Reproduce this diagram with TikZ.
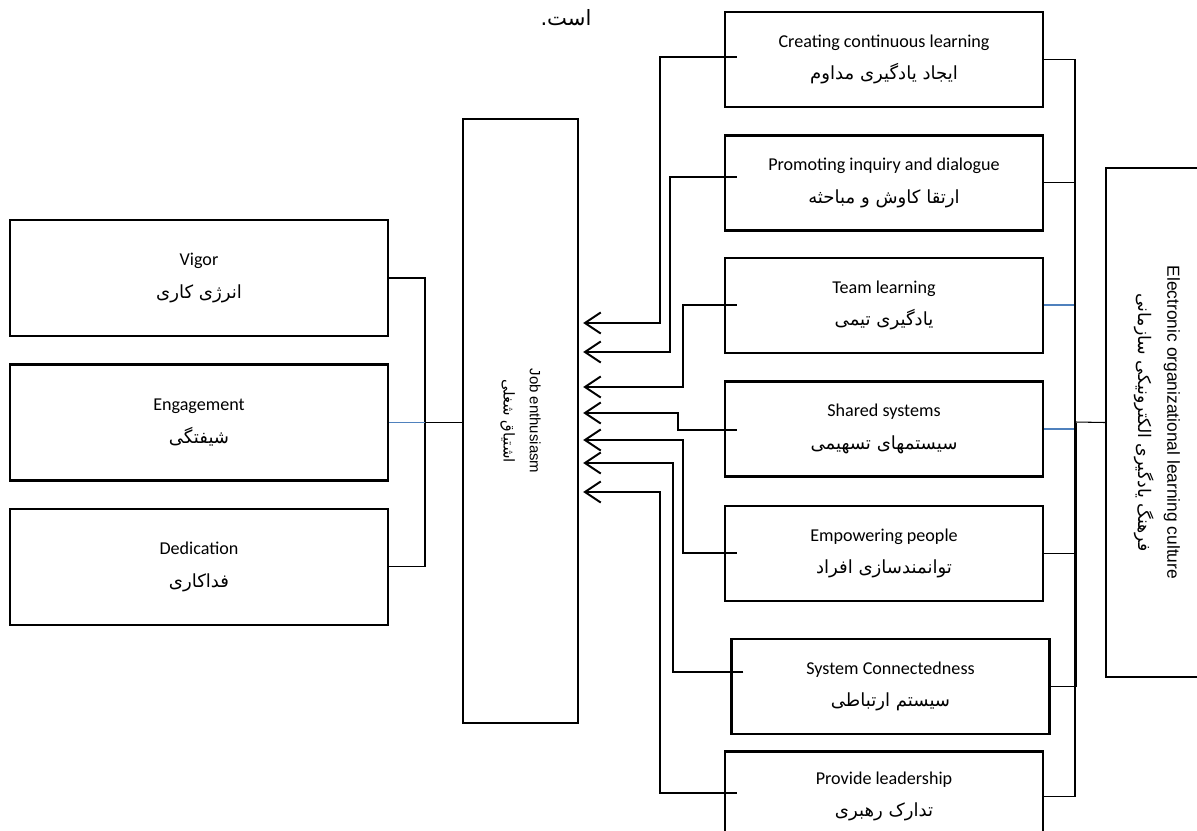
\documentclass[tikz,border=0pt]{standalone}
\usepackage{fontspec}
\setmainfont{Carlito}
\newfontfamily\farsi[Script=Arabic]{DejaVu Sans}
\newfontfamily\arial{Liberation Sans}
\TeXXeTstate=1
\usetikzlibrary{arrows.meta,calc,positioning}
\newcommand{\fa}[1]{{\farsi\beginR #1\endR}}
\definecolor{linkblue}{HTML}{4F81BD}

\begin{document}
\begin{tikzpicture}[x=0.02cm, y=-0.02cm,
    box/.style = {draw, line width=1.4pt, align=center, font=\fontsize{10.3}{12.4}\selectfont},
    rbox/.style = {box, minimum width=6.36cm, minimum height=1.9cm},
    lbox/.style = {box, minimum width=7.56cm, minimum height=2.32cm},
    arr/.style = {line width=1.1pt, -{Straight Barb[length=9pt,width=12pt]}},
    link/.style = {line width=0.6pt},
    blink/.style = {link, linkblue, line width=1pt}]
    \useasboundingbox (0,0) rectangle (1197,831);
    % right column
    \node[rbox] (cl) at (884,59.5) {Creating continuous learning\\[6pt]\fa{ایجاد یادگیری مداوم}};
    \node[rbox] (pid) [below=0.52cm of cl] {Promoting inquiry and dialogue\\[6pt]\fa{ارتقا کاوش و مباحثه}};
    \node[rbox] (tl) [below=0.5cm of pid] {Team learning\\[6pt]\fa{یادگیری تیمی}};
    \node[rbox] (ss) [below=0.52cm of tl] {Shared systems\\[6pt]\fa{سیستمهای تسهیمی}};
    \node[rbox] (ep) [below=0.54cm of ss] {Empowering people\\[6pt]\fa{توانمندسازی افراد}};
    \node[rbox] (sc) [below=0.72cm of ep, xshift=0.13cm] {System Connectedness\\[6pt]\fa{سیستم ارتباطی}};
    \node[rbox, minimum height=1.8cm] (pl) [below=0.3cm of sc, xshift=-0.13cm] {Provide leadership\\[6pt]\fa{تدارک رهبری}};
    % left column
    \node[lbox] (vg) at (199,278) {Vigor\\[6pt]\fa{انرژی کاری}};
    \node[lbox] (en) [below=0.52cm of vg] {Engagement\\[6pt]\fa{شیفتگی}};
    \node[lbox] (dd) [below=0.52cm of en] {Dedication\\[6pt]\fa{فداکاری}};
    % middle and far right
    \node[draw, line width=1.4pt, minimum width=2.3cm, minimum height=12.08cm] (job) at (520.5,421) {};
    \node[rotate=-90, align=center, font=\fontsize{8.5}{10}\selectfont] (jobtxt) at (job) {\arial Job enthusiasm\\[5pt]\fa{اشتیاق شغلی}};
    \node[draw, line width=1.4pt, minimum width=1.96cm, minimum height=10.18cm] (elc) at (1155,422.5) {};
    \node[rotate=-90, align=center, font=\fontsize{9.9}{11.5}\selectfont] (elctxt) at ($(elc)+(2,0)$) {\arial Electronic organizational learning culture\\[5pt]\fa{فرهنگ یادگیری الکترونیکی سازمانی}};
    \node[font=\fontsize{12}{14}\selectfont] (ast) at (566,18) {\fa{است.}};

    \draw[arr] ($(cl.west)+(13,-2.5)$) -| (660,323) -- ($(job.east)+(4,-98)$);
    \draw[arr] ($(pid.west)+(13,-5.5)$) -| (670,352) -- ($(job.east)+(4,-69)$);
    \draw[arr] ($(tl.west)+(13,0)$) -| (683,387) -- ($(job.east)+(4,-34)$);
    \draw[arr] ($(ss.west)+(13,1.5)$) -| (678,413) -- ($(job.east)+(4,-8)$);
    \draw[arr] ($(ep.west)+(13,0)$) -| (683,440) -- ($(job.east)+(4,19)$);
    \draw[arr] ($(sc.west)+(13,-14.5)$) -| (673,463) -- ($(job.east)+(4,42)$);
    \draw[arr] ($(pl.west)+(13,-4)$) -| (660,492) -- ($(job.east)+(4,71)$);

    \coordinate (rb) at (1075,422);
    \draw[link] (cl.east) -- (cl.east -| rb);
    \draw[link] (pid.east) -- (pid.east -| rb);
    \draw[blink] (tl.east) -- (tl.east -| rb);
    \draw[blink] (ss.east) -- (ss.east -| rb);
    \draw[link] (ep.east) -- (ep.east -| rb);
    \draw[link] (pl.east) -- (pl.east -| rb);
    \draw[link] (cl.east -| rb) -- (pl.east -| rb);
    \draw[link] (sc.east) -| ($(elc.west)+(-28,0)$);
    \draw[link] (rb) -- (elc.west);

    \coordinate (lb) at (425,421);
    \draw[link] (vg.east) -| (lb) |- (dd.east);
    \draw[blink] (en.east) -- (en.east -| lb);
    \draw[link] (en.east -| lb) -- (en.east -| job.west);
\end{tikzpicture}
\end{document}
